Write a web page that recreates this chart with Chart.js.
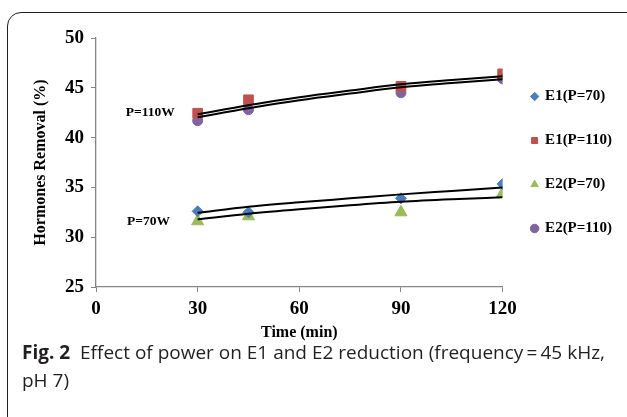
<!DOCTYPE html>
<html>
<head>
<meta charset="utf-8">
<script src="https://cdn.jsdelivr.net/npm/chart.js@4.4.0/dist/chart.umd.min.js"></script>
<style>
html, body { margin: 0; padding: 0; width: 627px; height: 417px; overflow: hidden; background: #fff; }
.frame { position: absolute; left: 7px; top: 12px; width: 660px; height: 460px; border: 1.5px solid #231f20; border-radius: 14px; box-sizing: border-box; }
.plot { position: absolute; left: 0; top: 0; width: 627px; height: 352px; }
.caption { position: absolute; left: 22px; top: 338px; width: 610px; font-family: 'Open Sans', sans-serif; font-size: 19px; line-height: 28px; color: #231f20; white-space: nowrap; }
.caption b { font-weight: 700; }
</style>
</head>
<body>
<div class="frame"></div>
<div class="plot"><canvas id="chart"></canvas></div>
<div class="caption"><b>Fig. 2</b>&nbsp; Effect of power on E1 and E2 reduction (frequency&#8201;=&#8201;45 kHz,<br>pH 7)</div>
<script>
// 측정 시간 (min)
const times = [30, 45, 90, 120];

// 측정값 (%)
const e1P70 = [32.6, 32.5, 33.9, 35.35];
const e1P110 = [42.45, 43.8, 45.15, 46.4];
const e2P70 = [31.6, 32.1, 32.5, 34.4];
const e2P110 = [41.7, 42.8, 44.5, 45.9];

// 추세선
const trendTimes = [30, 45, 60, 75, 90, 105, 120];
const trendE1P70 = [32.45, 33.05, 33.5, 33.9, 34.3, 34.65, 35.0];
const trendE2P70 = [31.8, 32.35, 32.8, 33.2, 33.55, 33.8, 34.0];
const trendE1P110 = [42.35, 43.25, 44.05, 44.72, 45.35, 45.78, 46.15];
const trendE2P110 = [42.05, 42.95, 43.75, 44.42, 45.05, 45.48, 45.85];

const xTicks = [0, 30, 60, 90, 120];
const yTicks = [25, 30, 35, 40, 45, 50];

const serif = 'Liberation Serif, Times New Roman, serif';
const axisColor = '#868686';

const toPoints = (xs, ys) => xs.map((x, i) => ({ x, y: ys[i] }));

function markerSet(label, values, color, style, radius) {
    return {
        label,
        data: toPoints(times, values),
        showLine: false,
        pointStyle: style,
        pointRadius: radius,
        pointBackgroundColor: color,
        pointBorderColor: color,
        pointBorderWidth: 1,
        backgroundColor: color,
        borderColor: color,
        order: 1
    };
}

function trendSet(values) {
    return {
        label: '',
        data: toPoints(trendTimes, values),
        showLine: true,
        borderColor: '#000',
        borderWidth: 2,
        pointRadius: 0,
        cubicInterpolationMode: 'monotone',
        order: 0
    };
}

// P=110W / P=70W 라벨
const powerLabelPlugin = {
    id: 'powerLabels',
    afterDatasetsDraw(chart) {
        const { ctx, scales: { x, y } } = chart;
        ctx.save();
        ctx.font = 'bold 13.5px ' + serif;
        ctx.fillStyle = '#000';
        ctx.textAlign = 'center';
        ctx.textBaseline = 'middle';
        ctx.fillText('P=110W', x.getPixelForValue(16), y.getPixelForValue(42.5));
        ctx.fillText('P=70W', x.getPixelForValue(15.5), y.getPixelForValue(31.6));
        ctx.restore();
    }
};

new Chart(document.getElementById('chart'), {
    type: 'scatter',
    data: {
        datasets: [
            markerSet('E1(P=70)', e1P70, '#4a7ebb', 'rectRot', 5.5),
            markerSet('E1(P=110)', e1P110, '#c0504d', 'rect', 6.8),
            markerSet('E2(P=70)', e2P70, '#9bbb59', 'triangle', 7),
            markerSet('E2(P=110)', e2P110, '#8064a2', 'circle', 5),
            trendSet(trendE1P110),
            trendSet(trendE2P110),
            trendSet(trendE1P70),
            trendSet(trendE2P70)
        ]
    },
    options: {
        responsive: true,
        maintainAspectRatio: false,
        animation: false,
        layout: { padding: { left: 27, right: 5, top: 38, bottom: 2 } },
        plugins: {
            legend: {
                position: 'right',
                fullSize: false,
                labels: {
                    filter: item => item.text !== '',
                    usePointStyle: true,
                    boxWidth: 6,
                    boxHeight: 6,
                    padding: 29,
                    color: '#000',
                    font: { family: serif, weight: 'bold', size: 15 }
                }
            },
            tooltip: { enabled: false }
        },
        scales: {
            x: {
                type: 'linear',
                min: 0,
                max: 120,
                afterBuildTicks: s => { s.ticks = xTicks.map(v => ({ value: v })); },
                afterFit: s => { s.height = 63; },
                ticks: { color: '#000', padding: 6, font: { family: serif, weight: 'bold', size: 19 } },
                grid: { drawOnChartArea: false, drawTicks: true, tickLength: 5, color: axisColor },
                border: { color: axisColor, width: 1.3 },
                title: { display: true, text: 'Time (min)', color: '#000', padding: { top: 2, bottom: 8 }, font: { family: serif, weight: 'bold', size: 16 } }
            },
            y: {
                min: 25,
                max: 50,
                afterBuildTicks: s => { s.ticks = yTicks.map(v => ({ value: v })); },
                afterFit: s => { s.width = 69; },
                ticks: { color: '#000', padding: 7, font: { family: serif, weight: 'bold', size: 19 } },
                grid: { drawOnChartArea: false, drawTicks: true, tickLength: 5, color: axisColor },
                border: { color: axisColor, width: 1.3 },
                title: { display: true, text: 'Hormones Removal (%)', color: '#000', font: { family: serif, weight: 'bold', size: 16 } }
            }
        }
    },
    plugins: [powerLabelPlugin]
});
</script>
</body>
</html>
